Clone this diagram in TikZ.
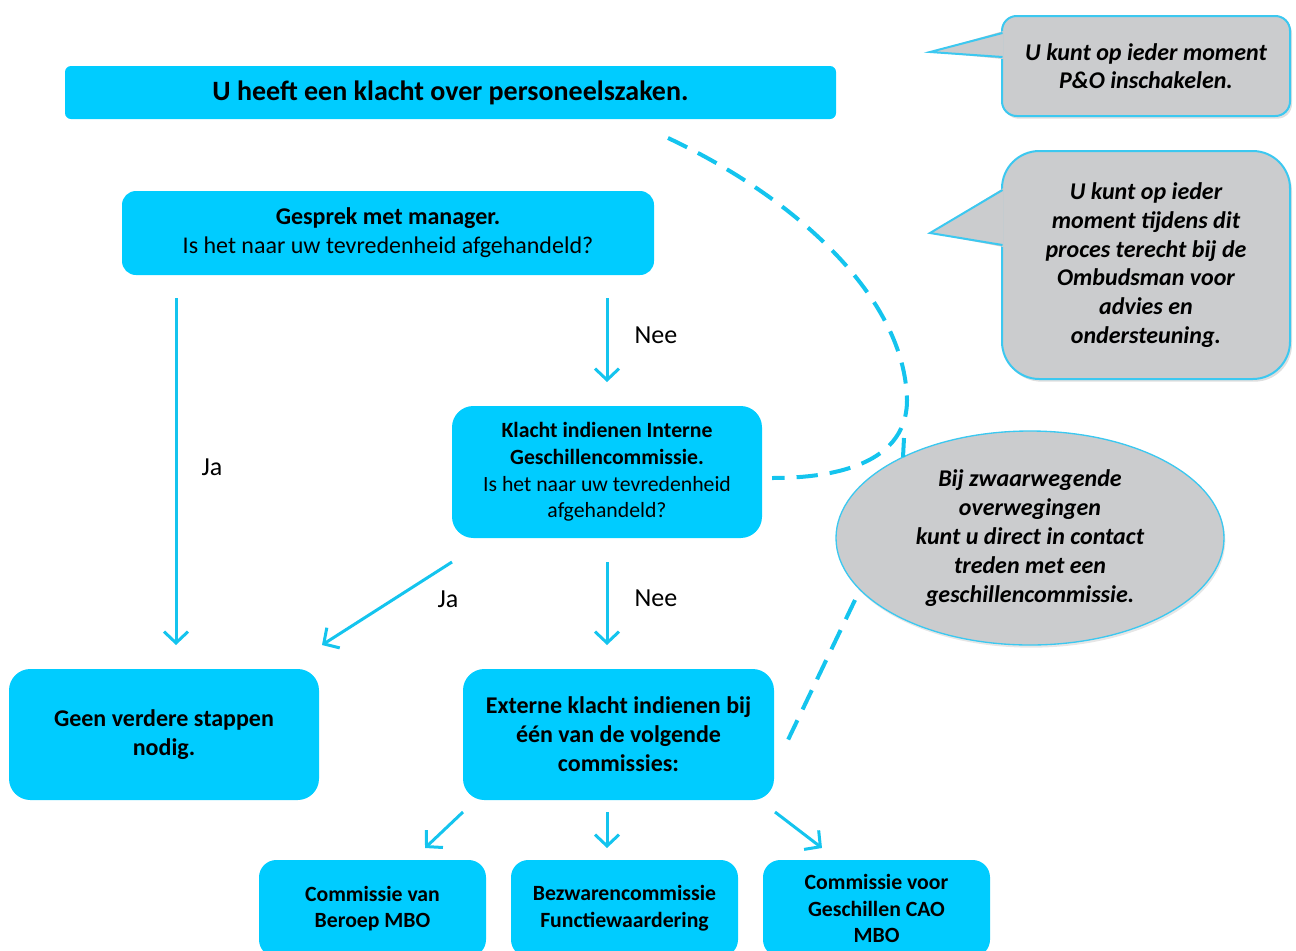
\documentclass[tikz,border=0pt]{standalone}
\usepackage{fontspec}
\setmainfont{Carlito}
\usetikzlibrary{arrows.meta,shapes.geometric,shadows}
\definecolor{boxcyan}{RGB}{0,204,255}
\definecolor{arrcyan}{RGB}{20,196,238}
\definecolor{callgray}{RGB}{203,204,206}
\definecolor{callline}{RGB}{60,200,240}
\newdimen\pu \pu=0.75pt
\begin{document}
\begin{tikzpicture}[x=0.75pt,y=-0.75pt,
  box/.style={fill=boxcyan, draw=none, align=center, inner sep=0pt, text=black},
  arr/.style={draw=arrcyan, line width=2.25pt, -{Straight Barb[length=8.5pt,width=18pt]}},
  dashline/.style={draw=arrcyan, line width=3pt, dash pattern=on 16pt off 9pt},
  lbl/.style={font=\fontsize{19.5}{22}\selectfont, inner sep=0pt},
  callbody/.style={fill=callgray, draw=callline, line width=1.5pt, drop shadow={opacity=0.25, shadow xshift=1.5pt, shadow yshift=-2pt}},
  calltext/.style={align=center, inner sep=0pt, font=\fontsize{18}{21.5}\selectfont\bfseries\itshape}
]
\useasboundingbox (0,0) rectangle (1296,950);
\clip (0,0) rectangle (1296,950);

% main boxes
\node[box, minimum width=771\pu, minimum height=53\pu, rounded corners=4.5pt,
  font=\fontsize{21}{24}\selectfont\bfseries] (title) at (450.5,92.5) {U heeft een klacht over personeelszaken.};
\node[box, minimum width=532\pu, minimum height=84\pu, rounded corners=10.5pt,
  font=\fontsize{18}{21.75}\selectfont] (gesprek) at (388,233)
  {\textbf{Gesprek met manager.}\\Is het naar uw tevredenheid afgehandeld?};
\node[box, minimum width=310\pu, minimum height=132\pu, rounded corners=16pt,
  font=\fontsize{16.3}{19.9}\selectfont] (klacht) at (607,472)
  {\textbf{Klacht indienen Interne}\\\textbf{Geschillencommissie.}\\Is het naar uw tevredenheid\\afgehandeld?};
\node[box, minimum width=310\pu, minimum height=131\pu, rounded corners=16pt,
  font=\fontsize{18}{21.75}\selectfont\bfseries] (geen) at (164,734.5)
  {Geen verdere stappen\\nodig.};
\node[box, minimum width=311\pu, minimum height=131\pu, rounded corners=16pt,
  font=\fontsize{18}{21.75}\selectfont\bfseries] (externe) at (618.5,734.5)
  {Externe klacht indienen bij\\één van de volgende\\commissies:};
\node[box, minimum width=227\pu, minimum height=97\pu, rounded corners=13pt,
  font=\fontsize{16.3}{20}\selectfont\bfseries] (cvb) at (372.5,908.5)
  {Commissie van\\Beroep MBO};
\node[box, minimum width=227\pu, minimum height=97\pu, rounded corners=13pt,
  font=\fontsize{16.3}{20}\selectfont\bfseries] (bcf) at (624.5,908.5)
  {Bezwarencommissie\\Functiewaardering};
\node[box, minimum width=227\pu, minimum height=97\pu, rounded corners=13pt,
  font=\fontsize{16.3}{20}\selectfont\bfseries] (cvg) at (876.5,908.5)
  {Commissie voor\\Geschillen CAO\\MBO};

% callout 1
\path[callbody, rounded corners=11pt] (1002,16) rectangle (1290,116);
\fill[callgray] (930,52) -- (1003.5,31) -- (1003.5,59) -- cycle;
\draw[callline, line width=1.5pt, line join=miter] (1002.5,33) -- (930,52) -- (1002.5,57);
\node[calltext] (c1) at (1146,66) {U kunt op ieder moment\\P\&O inschakelen.};

% callout 2
\path[callbody, rounded corners=28pt] (1002,151) rectangle (1290,379);
\fill[callgray] (930,233) -- (1003.5,188) -- (1003.5,247) -- cycle;
\draw[callline, line width=1.5pt, line join=miter] (1002.5,190) -- (930,233) -- (1002.5,245);
\node[calltext] (c2) at (1146,265) {U kunt op ieder\\moment tijdens dit\\proces terecht bij de\\Ombudsman voor\\advies en\\ondersteuning.};

% ellipse
\node[ellipse, fill=callgray, draw=callline, line width=1pt, minimum width=388\pu, minimum height=214\pu,
  drop shadow={opacity=0.2, shadow xshift=1pt, shadow yshift=-2pt}] (ell) at (1030,538) {};
\node[calltext, font=\fontsize{18}{21.75}\selectfont\bfseries\itshape] (elltext) at (1030,538)
  {Bij zwaarwegende\\overwegingen\\kunt u direct in contact\\treden met een\\geschillencommissie.};

% dashed connectors
\coordinate (d1s) at (668,138);
\coordinate (d1m) at (907,400);
\coordinate (d1e) at (772,478);
\draw[dashline] (d1s) .. controls (800,200) and (905,300) .. (d1m)
  .. controls (907,470) and (820,478) .. (d1e);
\coordinate (d2s) at (903,457);
\coordinate (d2e) at (904,438);
\draw[dashline] (d2s) -- (d2e);
\coordinate (d3s) at (855,600);
\coordinate (d3e) at (787,742);
\draw[dashline] (d3s) -- (d3e);

% arrows
\coordinate (a1s) at (176,298); \coordinate (a1e) at (176,645);
\coordinate (a2s) at (607,298); \coordinate (a2e) at (607,382);
\coordinate (a3s) at (452,562); \coordinate (a3e) at (322,645);
\coordinate (a4s) at (607,562); \coordinate (a4e) at (607,645);
\coordinate (a5s) at (463,812); \coordinate (a5e) at (425,848);
\coordinate (a6s) at (607,812); \coordinate (a6e) at (607,848);
\coordinate (a7s) at (775,812); \coordinate (a7e) at (822,848);
\draw[arr] (a1s) -- (a1e);
\draw[arr] (a2s) -- (a2e);
\draw[arr] (a3s) -- (a3e);
\draw[arr] (a4s) -- (a4e);
\draw[arr] (a5s) -- (a5e);
\draw[arr] (a6s) -- (a6e);
\draw[arr] (a7s) -- (a7e);

% labels
\node[lbl] (ja1) at (212,467) {Ja};
\node[lbl] (nee1) at (656,335) {Nee};
\node[lbl] (ja2) at (448,599) {Ja};
\node[lbl] (nee2) at (656,598) {Nee};
\end{tikzpicture}
\end{document}
